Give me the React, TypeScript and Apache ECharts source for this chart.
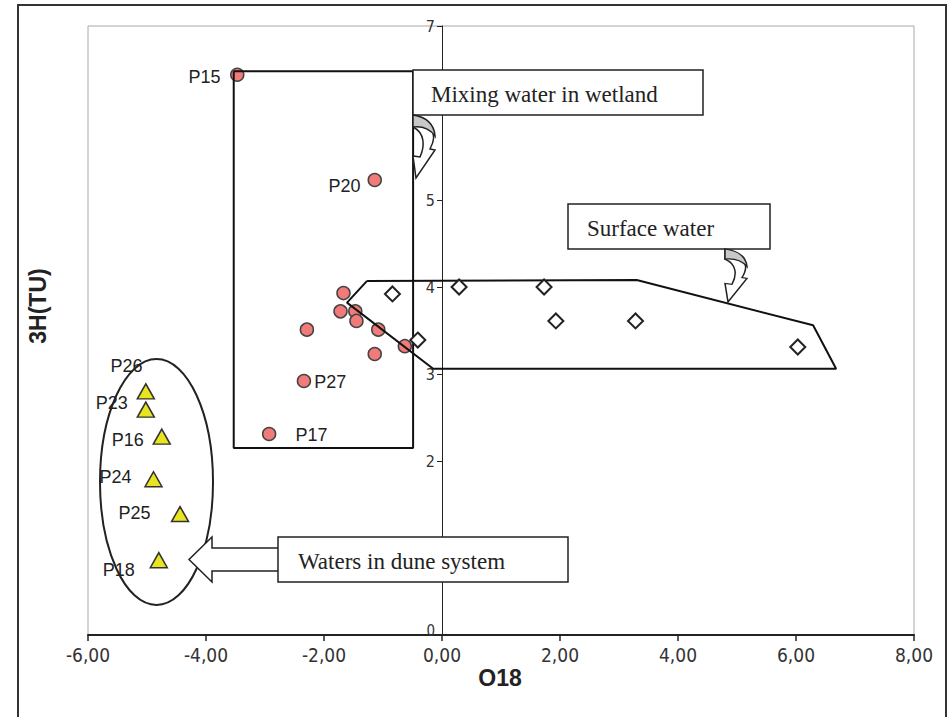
import React, { useEffect, useRef } from "react";
import * as echarts from "echarts";

// ---- Data ----
const wetlandO18 = [-3.47, -1.14, -1.67, -1.72, -1.47, -1.45, -1.08, -1.14, -0.63, -2.29, -2.34, -2.93];
const wetland3H = [6.44, 5.23, 3.93, 3.72, 3.72, 3.61, 3.51, 3.23, 3.32, 3.51, 2.92, 2.31];
const wetlandNames = ["P15", "P20", "", "", "", "", "", "", "", "", "P27", "P17"];

const duneO18 = [-5.02, -5.02, -4.75, -4.89, -4.44, -4.8];
const dune3H = [2.8, 2.59, 2.28, 1.79, 1.39, 0.86];
const duneNames = ["P26", "P23", "P16", "P24", "P25", "P18"];

const surfaceO18 = [-0.84, 0.29, 1.73, 1.93, 3.28, 6.03, -0.41];
const surface3H = [3.92, 4.0, 4.0, 3.61, 3.61, 3.31, 3.39];

// annotation outlines in data coordinates
const wetlandBoxO18 = [-3.53, -0.49, -0.49, -3.53, -3.53];
const wetlandBox3H = [6.48, 6.48, 2.15, 2.15, 6.48];
const surfaceZoneO18 = [-1.27, 3.3, 6.29, 6.68, -0.15, -1.61, -1.27];
const surfaceZone3H = [4.07, 4.08, 3.56, 3.06, 3.06, 3.82, 4.07];

const xMin = -6, xMax = 8, xStep = 2;
const yMin = 0, yMax = 7, yStep = 1;
// y tick labels that the callout boxes cover in the reference
const coveredYLabels = [1, 6];

const calloutTexts = ["Mixing water in wetland", "Surface water", "Waters in dune system"];
const xTitle = "O18";
const yTitle = "3H(TU)";

// ---- label placement (side, distance, dy, dx) ----
const labelPlace: Record<string, [string, number, number, number?]> = {
  P15: ["left", 9.5, 2],
  P20: ["left", 7, 6],
  P27: ["right", 3, 1],
  P17: ["right", 19, 1],
  P26: ["left", 0, -25, 6],
  P23: ["left", 8.7, -7],
  P16: ["left", 8.7, 3],
  P24: ["left", 12.6, -2],
  P25: ["left", 20.3, -1],
  P18: ["left", 14.7, 10],
};

const ARROW_BODY = "M0 0 C17 3 26 18 17 34 L22 35 L3 63 L0 41 L7 42 C12 31 12 18 0 12 Z";
const ARROW_BACK = "M0 0 C13 2 21 8 22 21 C17 14 9 11 0 12 Z";
echarts.graphic.registerShape("curvedArrowBody", echarts.graphic.extendPath(ARROW_BODY, {}));
echarts.graphic.registerShape("curvedArrowBack", echarts.graphic.extendPath(ARROW_BACK, {}));

const SANS = "'Liberation Sans', Arial, sans-serif";
const NARROW = "'Liberation Sans Narrow', 'DejaVu Sans Condensed', 'Arial Narrow', 'Liberation Sans', sans-serif";
const SERIF = "'Liberation Serif', 'Times New Roman', serif";

// plot frame (pixels)
const GRID_LEFT = 88, GRID_TOP = 26, GRID_RIGHT = 34, GRID_BOTTOM = 82;
const PLOT_W = 948 - GRID_LEFT - GRID_RIGHT;

function pointLabel(name: string) {
  const p = labelPlace[name];
  if (!p) return { show: false };
  return {
    show: true,
    formatter: name,
    position: p[0],
    distance: p[1],
    offset: [p[3] || 0, p[2]],
    color: "#222",
    fontSize: 18,
    fontFamily: SANS,
  };
}

function callout(x: number, y: number, w: number, h: number, text: string, tx: number) {
  return {
    type: "group",
    z: 100,
    children: [
      {
        type: "rect",
        z: 100,
        shape: { x, y, width: w, height: h },
        style: { fill: "#fff", stroke: "#222", lineWidth: 1.5 },
      },
      {
        type: "text",
        z: 101,
        x: tx,
        y: y + h / 2 + 2,
        style: {
          text,
          fill: "#222",
          font: `23px ${SERIF}`,
          verticalAlign: "middle",
          align: "left",
        },
      },
    ],
  };
}

function curvedArrow(x: number, y: number, sx: number, sy: number) {
  return {
    type: "group",
    z: 100,
    x,
    y,
    children: [
      {
        type: "curvedArrowBody",
        z: 100,
        scaleX: sx,
        scaleY: sy,
        style: { fill: "#fff", stroke: "#222", lineWidth: 1.5, strokeNoScale: true },
      },
      {
        type: "curvedArrowBack",
        z: 101,
        scaleX: sx,
        scaleY: sy,
        style: { fill: "#c8c8c8", stroke: "#222", lineWidth: 1.5, strokeNoScale: true },
      },
    ],
  };
}

export default function App() {
  const ref = useRef<HTMLDivElement>(null);
  useEffect(() => {
    if (!ref.current) return;
    const chart = echarts.init(ref.current, undefined, { renderer: "svg" });
    // y axis drawn where O18 = 0
    const yAxisShift = -((0 - xMin) / (xMax - xMin)) * PLOT_W;
    const option: any = {
      animation: false,
      backgroundColor: "#fff",
      grid: {
        left: GRID_LEFT,
        top: GRID_TOP,
        right: GRID_RIGHT,
        bottom: GRID_BOTTOM,
        show: true,
        borderColor: "#a8a8a8",
        borderWidth: 1,
        backgroundColor: "transparent",
      },
      xAxis: {
        type: "value",
        min: xMin,
        max: xMax,
        interval: xStep,
        splitLine: { show: false },
        axisLine: { onZero: false, lineStyle: { color: "#222", width: 2 } },
        axisTick: { show: true, length: 6, lineStyle: { color: "#222", width: 1.5 } },
        axisLabel: {
          margin: 10,
          color: "#333",
          fontSize: 19,
          fontFamily: NARROW,
          formatter: (v: number) => v.toFixed(2).replace(".", ","),
        },
      },
      yAxis: {
        type: "value",
        min: yMin,
        max: yMax,
        interval: yStep,
        offset: yAxisShift,
        splitLine: { show: false },
        axisLine: { onZero: false, lineStyle: { color: "#222", width: 1 } },
        axisTick: { show: true, length: 5, lineStyle: { color: "#222", width: 1 } },
        axisLabel: {
          margin: 7,
          color: "#333",
          fontSize: 16,
          fontFamily: NARROW,
          formatter: (v: number) =>
            coveredYLabels.includes(v) ? "" : v === yMin ? `{low|${v}}` : String(v),
          rich: {
            low: { color: "#333", fontSize: 15, fontFamily: NARROW, lineHeight: 15, padding: [0, 0, 8, 0] },
          },
        },
      },
      series: [
        {
          type: "line",
          data: wetlandBoxO18.map((x, i) => [x, wetlandBox3H[i]]),
          symbol: "none",
          lineStyle: { color: "#111", width: 2 },
          z: 3,
          silent: true,
        },
        {
          type: "scatter",
          data: wetlandO18.map((x, i) => ({ value: [x, wetland3H[i]], label: pointLabel(wetlandNames[i]) })),
          symbol: "circle",
          symbolSize: 13,
          itemStyle: { color: "#f07b78", borderColor: "#444", borderWidth: 1.5, opacity: 1 },
          z: 2,
        },
        {
          type: "line",
          data: surfaceZoneO18.map((x, i) => [x, surfaceZone3H[i]]),
          symbol: "none",
          lineStyle: { color: "#111", width: 2 },
          z: 4,
          silent: true,
        },
        {
          type: "scatter",
          data: surfaceO18.map((x, i) => [x, surface3H[i]]),
          symbol: "diamond",
          symbolSize: 15,
          itemStyle: { color: "#fff", borderColor: "#222", borderWidth: 2, opacity: 1 },
          z: 5,
        },
        {
          type: "scatter",
          data: duneO18.map((x, i) => ({ value: [x, dune3H[i]], label: pointLabel(duneNames[i]) })),
          symbol: "triangle",
          symbolSize: [17, 15],
          itemStyle: { color: "#e8e420", borderColor: "#333", borderWidth: 1.5, opacity: 1 },
          z: 5,
        },
      ],
      graphic: [
        {
          type: "rect",
          z: 200,
          silent: true,
          shape: { x: 18, y: 5, width: 928, height: 730 },
          style: { fill: "none", stroke: "#333", lineWidth: 2 },
        },
        {
          type: "ellipse",
          z: 6,
          shape: { cx: 156.5, cy: 482, rx: 56.5, ry: 123 },
          style: { fill: "none", stroke: "#222", lineWidth: 2 },
        },
        {
          type: "polygon",
          z: 100,
          shape: {
            points: [
              [290, 548],
              [212, 548],
              [212, 537],
              [189, 559.5],
              [212, 582],
              [212, 571],
              [290, 571],
            ],
          },
          style: { fill: "#fff", stroke: "#222", lineWidth: 1.5 },
        },
        callout(413, 70, 290, 45, calloutTexts[0], 431),
        callout(568, 204, 202, 45, calloutTexts[1], 587),
        callout(278, 537, 290, 45, calloutTexts[2], 298),
        curvedArrow(413, 115, 1, 1),
        curvedArrow(725, 249, 1, 0.84),
        {
          type: "text",
          z: 50,
          x: 500,
          y: 678,
          style: {
            text: xTitle,
            font: `bold 23px ${SANS}`,
            fill: "#222",
            align: "center",
            verticalAlign: "middle",
          },
        },
        {
          type: "text",
          z: 50,
          x: 38,
          y: 306,
          rotation: Math.PI / 2,
          style: {
            text: yTitle,
            font: `bold 23px ${SANS}`,
            fill: "#222",
            align: "center",
            verticalAlign: "middle",
          },
        },
      ],
    };
    chart.setOption(option);
    return () => chart.dispose();
  }, []);
  return (
    <div
      ref={ref}
      style={{ position: "absolute", left: 0, top: 0, width: 948, height: 717, background: "#fff" }}
    />
  );
}
